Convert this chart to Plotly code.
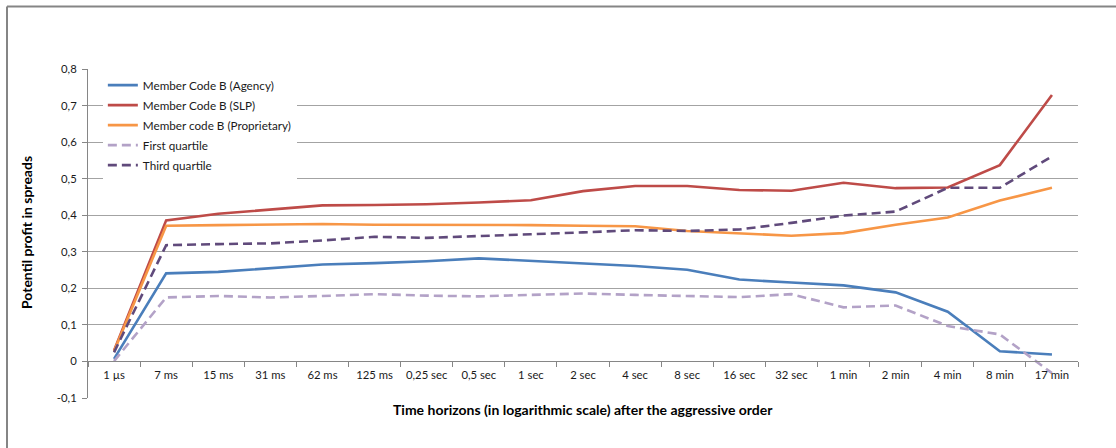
import plotly.graph_objects as go

# Time horizons after the aggressive order (category axis, log-spaced)
horizons = ["1 µs", "7 ms", "15 ms", "31 ms", "62 ms", "125 ms", "0,25 sec", "0,5 sec",
            "1 sec", "2 sec", "4 sec", "8 sec", "16 sec", "32 sec", "1 min", "2 min",
            "4 min", "8 min", "17 min"]

# Potential profit in spreads per series
agency = [0.007, 0.241, 0.245, 0.255, 0.265, 0.269, 0.274, 0.282, 0.275, 0.270,
          0.261, 0.251, 0.224, 0.216, 0.208, 0.189, 0.136, 0.028, 0.019]
slp = [0.030, 0.386, 0.404, 0.416, 0.427, 0.428, 0.430, 0.435, 0.441, 0.466,
       0.480, 0.480, 0.469, 0.467, 0.489, 0.474, 0.476, 0.537, 0.729]
proprietary = [0.028, 0.371, 0.373, 0.374, 0.376, 0.374, 0.374, 0.372, 0.373, 0.371,
               0.370, 0.357, 0.350, 0.344, 0.351, 0.374, 0.394, 0.440, 0.475]
first_quartile = [0.001, 0.175, 0.179, 0.175, 0.179, 0.184, 0.180, 0.178, 0.182, 0.186,
                  0.182, 0.178, 0.176, 0.184, 0.148, 0.153, 0.097, 0.074, -0.032]
third_quartile = [0.025, 0.318, 0.321, 0.323, 0.331, 0.341, 0.338, 0.344, 0.348, 0.353,
                  0.359, 0.357, 0.361, 0.379, 0.399, 0.410, 0.475, 0.475, 0.561]

y_ticks = [-0.1, 0, 0.1, 0.2, 0.3, 0.4, 0.5, 0.6, 0.7, 0.8]
y_tick_labels = ["-0,1", "0", "0,1", "0,2", "0,3", "0,4", "0,5", "0,6", "0,7", "0,8"]

FONT = "Lato"
GRID = "#a3a3a3"
AXIS = "#868686"

series = [
    ("Member Code B (Agency)", agency, "#4a7ebb", "solid"),
    ("Member Code B (SLP)", slp, "#be4b48", "solid"),
    ("Member code B (Proprietary)", proprietary, "#f79646", "solid"),
    ("First quartile", first_quartile, "#b3a2c7", "9px,5px"),
    ("Third quartile", third_quartile, "#604a7b", "9px,5px"),
]

fig = go.Figure()
for i, (name, vals, color, dash) in enumerate(series):
    fig.add_trace(go.Scatter(
        x=horizons, y=vals, name=name, mode="lines", legendgroup=f"g{i}",
        line=dict(color=color, width=2.6, dash=dash),
    ))

W, H = 1116, 448
ml, mr, mt, mb = 88, 38, 69, 50
pw, ph = W - ml - mr, H - mt - mb
ymin, ymax = -0.1, 0.8

fig.update_layout(
    width=W, height=H,
    margin=dict(l=ml, r=mr, t=mt, b=mb, pad=0),
    paper_bgcolor="white", plot_bgcolor="white",
    font=dict(family=FONT, size=11, color="#1a1a1a"),
    showlegend=True,
    legend=dict(
        x=0.015, y=0.995, xanchor="left", yanchor="top",
        bgcolor="white", borderwidth=0,
        font=dict(family=FONT, size=11.7, color="#1a1a1a"),
        tracegroupgap=1, itemwidth=30,
    ),
    xaxis=dict(
        type="category", range=[-0.5, len(horizons) - 0.5],
        anchor="free", position=(0 - ymin) / (ymax - ymin),
        showline=True, linecolor=AXIS, linewidth=1,
        ticks="outside", tickson="boundaries", ticklen=5, tickcolor=AXIS,
        showgrid=False, zeroline=False, ticklabelstandoff=3,
        tickfont=dict(family=FONT, size=11.3, color="#1a1a1a"),
    ),
    yaxis=dict(
        range=[ymin, ymax], tickvals=y_ticks, ticktext=y_tick_labels,
        showgrid=True, gridcolor=GRID, gridwidth=1,
        zeroline=False, showline=True, linecolor=AXIS, linewidth=1,
        ticks="outside", ticklen=5, tickcolor=AXIS, ticklabelstandoff=3,
        tickfont=dict(family=FONT, size=11.3, color="#1a1a1a"),
    ),
)

# Axis titles
fig.add_annotation(
    text="<b>Time horizons (in logarithmic scale) after the aggressive order</b>",
    xref="paper", yref="paper", x=(583 - ml) / pw, y=-(410 - (mt + ph)) / ph,
    showarrow=False, font=dict(family=FONT, size=14, color="#000"),
    xanchor="center", yanchor="middle",
)
fig.add_annotation(
    text="<b>Potentil profit in spreads</b>",
    xref="paper", yref="paper", x=(26 - ml) / pw, y=((mt + ph) - 233) / ph,
    showarrow=False, textangle=-90, font=dict(family=FONT, size=14, color="#000"),
    xanchor="center", yanchor="middle",
)

# Outer chart frame (top and left edges)
frame_left = (7 - ml) / pw
frame_top = ((mt + ph) - 6.5) / ph
frame_bottom = ((mt + ph) - H) / ph
fig.add_shape(type="line", xref="paper", yref="paper",
              x0=frame_left, x1=(W - ml) / pw, y0=frame_top, y1=frame_top,
              line=dict(color="#858585", width=2))
fig.add_shape(type="line", xref="paper", yref="paper",
              x0=frame_left, x1=frame_left, y0=frame_top, y1=frame_bottom,
              line=dict(color="#858585", width=2))

fig.write_html("out.html")
